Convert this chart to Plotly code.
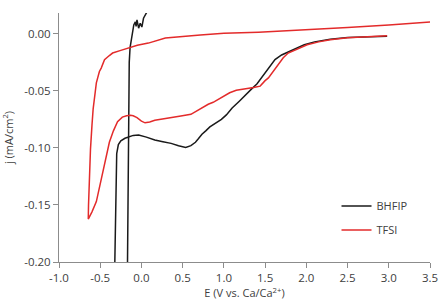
import plotly.graph_objects as go

# BHFIP (black) : E (V vs Ca/Ca2+), j (mA/cm2)
bhfip_E = [2.98, 2.7, 2.5, 2.29, 2.1, 1.975, 1.88, 1.78, 1.70, 1.62, 1.56, 1.50, 1.46, 1.40, 1.34,
           1.26, 1.187, 1.10, 1.03, 0.97, 0.90, 0.83, 0.78, 0.734, 0.69, 0.655, 0.60, 0.537, 0.45,
           0.36, 0.26, 0.162, 0.06, -0.034, -0.10, -0.153, -0.20, -0.25, -0.28, -0.30, -0.31, -0.32,
           -0.335, -0.175, -0.165, -0.158, -0.148, -0.138, -0.114, -0.093, -0.074, -0.065, -0.054,
           -0.034, -0.015, 0.005, 0.025, 0.064, 0.08]
bhfip_j = [-0.0020, -0.0025, -0.0032, -0.0048, -0.0070, -0.0096, -0.0125, -0.0154, -0.0185, -0.0226,
           -0.0285, -0.034, -0.0386, -0.044, -0.048, -0.054, -0.059, -0.065, -0.071, -0.075, -0.078,
           -0.0815, -0.085, -0.088, -0.092, -0.095, -0.098, -0.0995, -0.098, -0.096, -0.0945, -0.093,
           -0.0905, -0.0887, -0.089, -0.090, -0.0915, -0.0937, -0.097, -0.105, -0.13, -0.17,
           -0.25, -0.25, -0.15, -0.06, -0.025, -0.012, 0.0006, 0.0078, 0.0105, 0.0065, 0.0122,
           0.005, 0.0093, 0.006, 0.0137, 0.0185, 0.021]

# TFSI (red)
tfsi_E = [2.98, 2.7, 2.5, 2.29, 2.15, 2.01, 1.90, 1.78, 1.72, 1.66, 1.60, 1.54, 1.50, 1.44, 1.36,
          1.30, 1.246, 1.15, 1.07, 0.97, 0.87, 0.81, 0.714, 0.60, 0.478, 0.35, 0.25, 0.162, 0.10,
          0.044, 0.00, -0.054, -0.10, -0.134, -0.18, -0.232, -0.29, -0.34, -0.389, -0.43, -0.468,
          -0.51, -0.547, -0.60, -0.645,
          -0.642, -0.634, -0.618, -0.60, -0.586, -0.547, -0.51, -0.488, -0.448, -0.389, -0.35,
          -0.25, -0.153, -0.05, 0.084, 0.29, 0.714, 1.0, 1.42, 2.0, 2.5, 3.0, 3.31, 3.53]
tfsi_j = [-0.0017, -0.0025, -0.0035, -0.0052, -0.0070, -0.0096, -0.0128, -0.0168, -0.021, -0.027,
          -0.032, -0.0386, -0.041, -0.0458, -0.047, -0.0478, -0.048, -0.0495, -0.0516, -0.056,
          -0.060, -0.0617, -0.066, -0.0705, -0.072, -0.0735, -0.0745, -0.0757, -0.0772, -0.078,
          -0.0765, -0.0734, -0.0718, -0.0713, -0.0718, -0.073, -0.077, -0.085, -0.095, -0.108,
          -0.121, -0.135, -0.147, -0.156, -0.1624,
          -0.150, -0.133, -0.101, -0.080, -0.066, -0.043, -0.033, -0.030, -0.0226, -0.019, -0.0168,
          -0.0145, -0.0124, -0.010, -0.0081, -0.0037, -0.001, 0.0005, 0.0015, 0.0035, 0.0055,
          0.0078, 0.0093, 0.0105]

x_ticks = [-1.0, -0.5, 0.0, 0.5, 1.0, 1.5, 2.0, 2.5, 3.0, 3.5]
x_tick_labels = ["-1.0", "-0.5", "0.0", "0.5", "1.0", "1.5", "2.0", "2.5", "3.0", "3.5"]
y_ticks = [-0.20, -0.15, -0.10, -0.05, 0.00]
y_tick_labels = ["-0.20", "-0.15", "-0.10", "-0.05", "0.00"]

font_family = "'Open Sans', Lato, sans-serif"
text_color = "#404040"
axis_color = "#8c8c8c"

fig = go.Figure()
fig.add_trace(go.Scatter(x=bhfip_E, y=bhfip_j, mode="lines", name="BHFIP", showlegend=True,
                         line=dict(color="#1a1a1a", width=1.5), legend="legend"))
fig.add_trace(go.Scatter(x=tfsi_E, y=tfsi_j, mode="lines", name="TFSI", showlegend=True,
                         line=dict(color="#e32b2b", width=1.5), legend="legend2"))

legend_common = dict(font=dict(family=font_family, size=11, color=text_color),
                     bgcolor="rgba(0,0,0,0)", xanchor="left", yanchor="middle",
                     itemwidth=30, visible=True)
fig.update_layout(
    width=447, height=305,
    margin=dict(l=55, r=9, t=13, b=41),
    paper_bgcolor="white", plot_bgcolor="white",
    showlegend=True,
    font=dict(family=font_family, size=11, color=text_color),
    legend=dict(x=0.748, y=0.225, **legend_common),
    legend2=dict(x=0.748, y=0.129, **legend_common),
    xaxis=dict(range=[-1.0, 3.5], tickvals=x_ticks, ticktext=x_tick_labels,
               showgrid=False, zeroline=False, showline=True, linecolor=axis_color,
               linewidth=1, ticks="outside", ticklen=5, tickcolor=axis_color,
               tickfont=dict(size=11.5),
               title=dict(text="E (V vs. Ca/Ca<sup>2+</sup>)", standoff=4,
                          font=dict(size=11, color=text_color))),
    yaxis=dict(range=[-0.20, 0.0183], tickvals=y_ticks, ticktext=y_tick_labels,
               showgrid=False, zeroline=False, showline=True, linecolor=axis_color,
               linewidth=1, ticks="outside", ticklen=5, tickcolor=axis_color,
               tickfont=dict(size=11.5),
               title=dict(text="j (mA/cm<sup>2</sup>)", standoff=8,
                          font=dict(size=11, color=text_color))),
)

fig.write_html("out.html")
